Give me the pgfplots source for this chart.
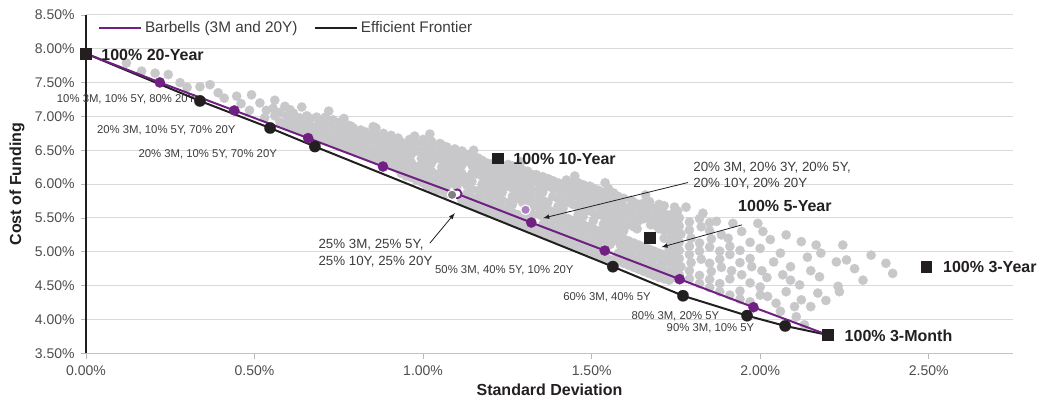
\documentclass[border=0pt]{standalone}
\usepackage{pgfplots}
\pgfplotsset{compat=1.18}
\usepackage{fontspec}
\setmainfont{Liberation Sans}
\definecolor{cpurple}{RGB}{112,32,130}
\definecolor{cblack}{RGB}{35,31,32}
\definecolor{cgray}{RGB}{200,200,202}
\definecolor{cdgray}{RGB}{128,128,130}
\definecolor{clpurple}{RGB}{170,128,190}
\definecolor{cgrid}{RGB}{217,217,217}
\definecolor{ctick}{RGB}{77,77,77}
\definecolor{ctext}{RGB}{60,60,60}
\begin{document}
\begin{tikzpicture}
\begin{axis}[
  name=ax,
  scale only axis, width=695.25pt, height=253.7pt,
  xmin=0, xmax=2.75, ymin=3.5, ymax=8.5,
  axis x line*=bottom, axis y line*=left,
  x axis line style={draw=cgrid!90!black, line width=0.75pt, -},
  y axis line style={draw=cblack, line width=0.8pt, -},
  xtick={0,0.5,1,1.5,2,2.5},
  xticklabels={0.00\%,0.50\%,1.00\%,1.50\%,2.00\%,2.50\%},
  ytick={3.5,4,4.5,5,5.5,6,6.5,7,7.5,8,8.5},
  yticklabels={3.50\%,4.00\%,4.50\%,5.00\%,5.50\%,6.00\%,6.50\%,7.00\%,7.50\%,8.00\%,8.50\%},
  tick align=outside, major tick length=4pt,
  tick style={draw=cgrid!85!black, line width=0.6pt},
  ymajorgrids, grid style={draw=cgrid, line width=0.75pt},
  ticklabel style={font=\fontsize{10.5}{12}\selectfont, text=ctick},
  xticklabel style={yshift=-2pt},
  yticklabel style={xshift=-1pt},
  xlabel={Standard Deviation}, ylabel={Cost of Funding},
  label style={font=\fontsize{12}{14}\selectfont\bfseries, text=cblack},
  xlabel style={at={(axis description cs:0.5,-0.109)}, anchor=center},
  ylabel style={at={(axis description cs:-0.0744,0.5)}, anchor=center},
  clip=false, clip marker paths=true,
  legend style={at={(rel axis cs:0.008,0.962)}, anchor=west, draw=none, fill=none,
    font=\fontsize{11.5}{13}\selectfont, text=ctext, legend columns=2,
    /tikz/every even column/.append style={column sep=10pt}},
  legend cell align=left,
  legend image code/.code={\draw[#1] (0pt,0pt) -- (32pt,0pt);},
]
\addlegendimage{color=cpurple, line width=1.5pt}
\addlegendentry{Barbells (3M and 20Y)}
\addlegendimage{color=cblack, line width=1.5pt}
\addlegendentry{Efficient Frontier}

% cloud of portfolios
\addplot[forget plot, only marks, mark=*, mark size=3.55pt, mark options={draw=cgray, fill=cgray, line width=0.1pt}] coordinates {
(0.12,7.79) (0.165,7.67) (0.205,7.64) (0.244,7.62) (0.279,7.50) (0.30,7.43) (0.338,7.44) (0.368,7.47) (0.392,7.35) (0.41,7.27) (0.447,7.30) (0.46,7.19) (0.491,7.32) (0.485,7.09) (0.516,7.20)
(0.53,6.98) (0.535,7.09) (0.555,7.12) (0.56,7.01)
(0.59,6.88) (0.59,7.15) (0.595,7.01)
(0.62,6.82) (0.615,7.05) (0.625,6.93)
(0.65,6.78) (0.645,6.89) (0.634,6.98) (0.655,7.01)
(0.68,6.70) (0.68,6.82) (0.684,6.99) (0.69,6.90)
(0.71,6.64) (0.71,6.76) (0.715,6.87) (0.71,6.99)
(0.74,6.60) (0.74,6.71) (0.745,6.83) (0.733,6.95)
(0.77,6.53) (0.77,6.65) (0.775,6.77) (0.773,6.88) (0.765,6.97)
(0.80,6.47) (0.80,6.59) (0.805,6.71) (0.793,6.83)
(0.83,6.42) (0.83,6.53) (0.835,6.65) (0.83,6.77) (0.852,6.85)
(0.86,6.36) (0.86,6.48) (0.865,6.60) (0.86,6.72)
(0.89,6.31) (0.89,6.42) (0.895,6.54) (0.89,6.66) (0.882,6.75)
(0.92,6.24) (0.92,6.36) (0.925,6.47) (0.92,6.59) (0.926,6.68)
(0.95,6.12) (0.95,6.21) (0.955,6.31) (0.95,6.43) (0.95,6.55) (0.96,6.66)
(0.98,6.06) (0.98,6.16) (0.985,6.26) (0.98,6.49) (0.975,6.61) (0.975,6.71)
(1.01,5.98) (1.01,6.09) (1.015,6.20) (1.01,6.32) (1.01,6.44) (1.005,6.56) (1.0,6.66)
(1.04,5.91) (1.04,6.03) (1.045,6.15) (1.04,6.38) (1.04,6.50) (1.05,6.60)
(1.07,5.86) (1.07,5.97) (1.075,6.09) (1.07,6.21) (1.07,6.33) (1.07,6.45) (1.07,6.55)
(1.10,5.96) (1.105,6.07) (1.10,6.18) (1.10,6.29) (1.10,6.40) (1.094,6.52)
(1.13,5.73) (1.13,5.86) (1.13,5.98) (1.135,6.10) (1.13,6.34) (1.129,6.44)
(1.16,5.67) (1.16,5.79) (1.165,5.91) (1.16,6.15) (1.16,6.27) (1.163,6.385)
(1.19,5.61) (1.19,5.73) (1.195,5.85) (1.19,5.97) (1.19,6.09) (1.19,6.21) (1.19,6.31)
(1.22,5.55) (1.22,5.67) (1.225,5.79) (1.22,5.91) (1.22,6.03) (1.22,6.15) (1.22,6.26)
(1.25,5.49) (1.25,5.61) (1.255,5.73) (1.25,5.97) (1.25,6.09) (1.25,6.20) (1.252,6.29)
(1.28,5.43) (1.28,5.55) (1.28,5.79) (1.28,5.91) (1.28,6.03) (1.28,6.15) (1.28,6.25)
(1.31,5.37) (1.31,5.49) (1.31,5.74) (1.31,5.85) (1.31,5.97) (1.31,6.09) (1.31,6.19)
(1.34,5.31) (1.345,5.55) (1.34,5.67) (1.34,5.79) (1.345,5.91) (1.34,6.03) (1.336,6.14)
(1.37,5.25) (1.37,5.37) (1.37,5.49) (1.375,5.61) (1.37,5.73) (1.37,5.97) (1.371,6.08)
(1.40,5.19) (1.40,5.31) (1.405,5.43) (1.40,5.55) (1.40,5.67) (1.40,5.79) (1.405,5.91) (1.40,6.02)
(1.43,5.13) (1.43,5.25) (1.435,5.37) (1.43,5.49) (1.43,5.73) (1.435,5.85) (1.43,5.97) (1.425,6.06)
(1.46,5.07) (1.46,5.19) (1.465,5.31) (1.46,5.43) (1.46,5.55) (1.46,5.67) (1.465,5.79) (1.46,5.91) (1.46,6.02)
(1.49,5.01) (1.49,5.13) (1.495,5.25) (1.49,5.37) (1.49,5.61) (1.495,5.73) (1.49,5.85) (1.494,5.97)
(1.52,4.95) (1.52,5.07) (1.525,5.19) (1.52,5.31) (1.52,5.55) (1.525,5.67) (1.52,5.79) (1.52,5.91)
(1.55,4.89) (1.555,5.11) (1.55,5.23) (1.55,5.35) (1.55,5.47) (1.555,5.59) (1.55,5.71) (1.55,5.83) (1.55,5.93)
(1.58,4.86) (1.58,4.98) (1.585,5.10) (1.58,5.22) (1.58,5.34) (1.58,5.46) (1.585,5.58) (1.58,5.70) (1.578,5.82)
(1.61,4.80) (1.61,4.92) (1.615,5.04) (1.61,5.16) (1.61,5.40) (1.615,5.52) (1.61,5.64) (1.618,5.76)
(1.64,4.74) (1.64,4.86) (1.645,4.98) (1.64,5.10) (1.635,5.34) (1.64,5.46) (1.645,5.58) (1.64,5.70)
(1.67,4.68) (1.67,4.80) (1.675,4.92) (1.67,5.04) (1.675,5.40) (1.67,5.52) (1.67,5.64) (1.672,5.74)
(1.70,4.62) (1.70,4.74) (1.705,4.86) (1.70,4.98) (1.70,5.34) (1.705,5.46) (1.70,5.58) (1.70,5.70)
(1.73,4.58) (1.73,4.70) (1.735,4.82) (1.73,4.94) (1.73,5.06) (1.73,5.18) (1.735,5.30) (1.73,5.42) (1.73,5.54) (1.746,5.66)
(1.76,4.66) (1.765,4.78) (1.76,4.90) (1.76,5.02) (1.76,5.14) (1.765,5.26) (1.76,5.38) (1.76,5.50) (1.755,5.60)
(1.79,4.60) (1.79,4.72) (1.795,4.84) (1.79,4.96) (1.79,5.08) (1.795,5.20) (1.79,5.32) (1.79,5.44)
(1.82,4.53) (1.82,4.65) (1.825,4.89) (1.82,5.01) (1.82,5.13) (1.825,5.37) (1.83,5.57) (1.82,5.49)
(1.85,4.47) (1.85,4.59) (1.855,4.71) (1.85,4.83) (1.85,5.07) (1.855,5.19) (1.85,5.31) (1.85,5.43)
(1.88,4.41) (1.88,4.53) (1.885,4.77) (1.88,4.89) (1.88,5.01) (1.885,5.25) (1.87,5.45)
(1.91,4.36) (1.91,4.60) (1.915,4.72) (1.91,4.96) (1.91,5.08) (1.905,5.20) (1.919,5.42)
(1.94,4.30) (1.94,4.42) (1.945,4.66) (1.94,4.84) (1.94,5.02) (1.945,5.30)
(1.97,4.26) (1.97,4.54) (1.975,4.78) (1.97,4.90) (1.97,5.14) (1.993,5.42)
(2.00,4.36) (2.00,4.48) (2.005,4.72) (2.00,5.05) (2.008,5.30)
(2.022,4.34) (2.047,4.24) (2.02,4.62) (2.04,4.85) (2.03,5.18) (2.067,4.66) (2.077,4.41) (2.077,5.25) (2.06,4.98) (2.09,4.78)
(2.102,4.19) (2.107,4.04) (2.117,4.51) (2.122,4.29) (2.122,5.15) (2.131,3.92) (2.14,4.92) (2.15,4.72) (2.166,5.10) (2.171,4.39)
(2.176,4.63) (2.18,4.98) (2.195,4.28) (2.226,4.85) (2.231,4.49) (2.235,4.41) (2.245,5.10) (2.256,4.88) (2.28,4.75) (2.305,4.58)
(2.329,4.95) (2.373,4.83) (2.393,4.68) (2.06,4.12) (2.09,4.58) (2.15,4.19)
(0.575,6.92) (0.575,7.06) (0.605,6.86) (0.605,6.98) (0.605,7.10) (0.635,6.80) (0.635,6.91)
(0.665,6.74) (0.665,6.86) (0.665,6.97) (0.695,6.68) (0.695,6.80) (0.695,6.94)
(0.725,6.62) (0.725,6.74) (0.725,6.86) (0.755,6.57) (0.755,6.69) (0.755,6.81) (0.755,6.92)
(0.785,6.51) (0.785,6.63) (0.785,6.75) (0.785,6.86) (0.815,6.45) (0.815,6.57) (0.815,6.69) (0.815,6.80)
(0.845,6.39) (0.845,6.51) (0.845,6.63) (0.845,6.75) (0.875,6.34) (0.875,6.46) (0.875,6.58) (0.875,6.70)
(0.905,6.28) (0.905,6.40) (0.905,6.52) (0.905,6.64) (0.905,6.72)
(0.935,6.16) (0.935,6.27) (0.935,6.39) (0.935,6.51) (0.935,6.62)
(0.965,6.10) (0.965,6.21) (0.965,6.32) (0.965,6.44) (0.965,6.56) (0.965,6.66)
(0.995,6.03) (0.995,6.14) (0.995,6.26) (0.995,6.38) (0.995,6.50) (0.995,6.61)
(1.025,5.95) (1.025,6.07) (1.025,6.19) (1.025,6.31) (1.025,6.43) (1.025,6.55) (1.025,6.63)
(1.055,5.90) (1.055,6.01) (1.055,6.13) (1.055,6.25) (1.055,6.37) (1.055,6.49) (1.055,6.58)
(1.085,6.02) (1.085,6.14) (1.085,6.26) (1.085,6.38) (1.085,6.48)
(1.115,5.76) (1.115,6.04) (1.115,6.16) (1.115,6.28) (1.115,6.40) (1.115,6.49)
(1.145,5.70) (1.145,5.80) (1.145,5.92) (1.145,6.04) (1.145,6.16) (1.145,6.28) (1.145,6.40)
(1.175,5.64) (1.175,5.76) (1.175,5.88) (1.175,6.00) (1.175,6.12) (1.175,6.24) (1.175,6.35)
(1.205,5.58) (1.205,5.70) (1.205,5.82) (1.205,5.94) (1.205,6.06) (1.205,6.18) (1.205,6.30)
(1.235,5.52) (1.235,5.64) (1.235,5.76) (1.235,5.88) (1.235,6.00) (1.235,6.12) (1.235,6.24)
(1.265,5.46) (1.265,5.58) (1.265,5.70) (1.265,5.82) (1.265,5.94) (1.265,6.06) (1.265,6.18) (1.265,6.27)
(1.295,5.40) (1.295,5.50) (1.295,5.73) (1.295,5.85) (1.295,5.97) (1.295,6.09) (1.295,6.21)
(1.325,5.34) (1.325,5.55) (1.325,5.67) (1.325,5.79) (1.325,5.91) (1.325,6.03) (1.325,6.14)
(1.355,5.28) (1.355,5.40) (1.355,5.52) (1.355,5.64) (1.355,5.76) (1.355,5.88) (1.355,6.00) (1.355,6.11)
(1.385,5.22) (1.385,5.34) (1.385,5.46) (1.385,5.58) (1.385,5.82) (1.385,5.94) (1.385,6.05)
(1.415,5.16) (1.415,5.28) (1.415,5.40) (1.415,5.52) (1.415,5.64) (1.415,5.76) (1.415,5.88) (1.415,6.00)
(1.445,5.10) (1.445,5.22) (1.445,5.34) (1.445,5.46) (1.445,5.70) (1.445,5.82) (1.445,5.94) (1.445,6.03)
(1.475,5.04) (1.475,5.16) (1.475,5.28) (1.475,5.40) (1.475,5.52) (1.475,5.64) (1.475,5.76) (1.475,5.88) (1.475,5.99)
(1.505,4.98) (1.505,5.10) (1.505,5.22) (1.505,5.34) (1.505,5.46) (1.505,5.58) (1.505,5.70) (1.505,5.82) (1.505,5.94)
(1.535,4.92) (1.535,5.17) (1.535,5.29) (1.535,5.41) (1.535,5.53) (1.535,5.65) (1.535,5.77) (1.535,5.88)
(1.565,4.88) (1.565,5.17) (1.565,5.29) (1.565,5.41) (1.565,5.53) (1.565,5.65) (1.565,5.77) (1.565,5.87)
(1.595,4.83) (1.595,4.95) (1.595,5.07) (1.595,5.19) (1.595,5.31) (1.595,5.43) (1.595,5.55) (1.595,5.67) (1.595,5.79)
(1.625,4.77) (1.625,4.89) (1.625,5.01) (1.625,5.13) (1.625,5.37) (1.625,5.49) (1.625,5.61) (1.625,5.73)
(1.655,4.71) (1.655,4.83) (1.655,4.95) (1.655,5.07) (1.655,5.49) (1.655,5.61) (1.655,5.72)
(1.685,4.65) (1.685,4.77) (1.685,4.89) (1.685,5.01) (1.685,5.40) (1.685,5.52) (1.685,5.64)
(1.715,4.60) (1.715,4.72) (1.715,4.84) (1.715,4.96) (1.715,5.20) (1.715,5.32) (1.715,5.44) (1.715,5.56) (1.715,5.68)
(1.745,4.62) (1.745,4.74) (1.745,4.86) (1.745,4.98) (1.745,5.10) (1.745,5.22) (1.745,5.34) (1.745,5.46) (1.745,5.58)
(0.56,7.24) (0.64,7.14) (0.72,7.08) (0.86,6.83) (1.02,6.74) (1.15,6.50) (1.29,6.33) (1.45,6.12) (1.54,6.02) (1.66,5.84) (1.78,5.66)
};

% annotations (behind the markers)
\begin{scope}[every node/.style={inner sep=0pt, anchor=west, text=ctext}]
\node[font=\fontsize{8.5}{10}\selectfont] at (axis cs:-0.087,7.247) {10\% 3M, 10\% 5Y, 80\% 20Y};
\node[font=\fontsize{8.5}{10}\selectfont] at (axis cs:0.032,6.803) {20\% 3M, 10\% 5Y, 70\% 20Y};
\node[font=\fontsize{8.5}{10}\selectfont] at (axis cs:0.155,6.448) {20\% 3M, 10\% 5Y, 70\% 20Y};
\node[font=\fontsize{10}{12.5}\selectfont, align=left] at (axis cs:0.689,4.979) {25\% 3M, 25\% 5Y,\\25\% 10Y, 25\% 20Y};
\node[font=\fontsize{8.5}{10}\selectfont] at (axis cs:1.035,4.722) {50\% 3M, 40\% 5Y, 10\% 20Y};
\node[font=\fontsize{8.5}{10}\selectfont] at (axis cs:1.415,4.328) {60\% 3M, 40\% 5Y};
\node[font=\fontsize{8.5}{10}\selectfont] at (axis cs:1.618,4.041) {80\% 3M, 20\% 5Y};
\node[font=\fontsize{8.5}{10}\selectfont] at (axis cs:1.722,3.870) {90\% 3M, 10\% 5Y};
\node[font=\fontsize{10}{12.5}\selectfont, align=left] at (axis cs:1.801,6.123) {20\% 3M, 20\% 3Y, 20\% 5Y,\\20\% 10Y, 20\% 20Y};
\end{scope}
\draw[-latex, cblack, line width=0.6pt] (axis cs:1.020,5.127) -- (axis cs:1.094,5.571);
\draw[-latex, cblack, line width=0.6pt] (axis cs:1.786,6.024) -- (axis cs:1.356,5.497);
\draw[-latex, cblack, line width=0.6pt] (axis cs:1.946,5.398) -- (axis cs:1.707,5.068);

% efficient frontier
\addplot[forget plot, color=cblack, line width=1.5pt] coordinates {
(0,7.93) (0.338,7.23) (0.546,6.83) (0.679,6.556) (1.563,4.78) (1.771,4.35) (1.961,4.056) (2.074,3.904) (2.201,3.77)
};
% barbells
\addplot[forget plot, color=cpurple, line width=1.5pt] coordinates {
(0,7.93) (0.219,7.503) (0.44,7.089) (0.659,6.68) (0.881,6.26) (1.101,5.857) (1.321,5.432) (1.539,5.018) (1.761,4.595) (1.98,4.18) (2.201,3.77)
};
\addplot[forget plot, only marks, mark=*, mark size=3.9pt, mark options={draw=cpurple, fill=cpurple, line width=0.1pt}] coordinates {
(0.219,7.503) (0.44,7.089) (0.659,6.68) (0.881,6.26) (1.321,5.432) (1.539,5.018) (1.761,4.595) (1.98,4.18)
};
\addplot[forget plot, only marks, mark=*, mark size=3.3pt, mark options={draw=cpurple, fill=white, line width=1.4pt}] coordinates {
(1.101,5.857)
};
\addplot[forget plot, only marks, mark=*, mark size=3.6pt, mark options={draw=white, fill=cdgray, line width=0.8pt}] coordinates {
(1.086,5.842)
};
\addplot[forget plot, only marks, mark=*, mark size=3.6pt, mark options={draw=white, fill=clpurple, line width=0.8pt}] coordinates {
(1.304,5.62)
};
\addplot[forget plot, only marks, mark=*, mark size=4.3pt, mark options={draw=cblack, fill=cblack, line width=0.1pt}] coordinates {
(0.338,7.23) (0.546,6.83) (0.679,6.556) (1.563,4.78) (1.771,4.35) (1.961,4.056) (2.074,3.904)
};
% pure portfolios
\addplot[forget plot, only marks, mark=square*, mark size=4.1pt, mark options={draw=cblack, fill=cblack, line width=0.1pt}] coordinates {
(0,7.93) (1.222,6.385) (1.672,5.216) (2.492,4.78) (2.201,3.77)
};
\begin{scope}[every node/.style={inner sep=0pt, anchor=west, text=cblack, font=\fontsize{12}{14}\selectfont\bfseries}]
\node at (axis cs:0.045,7.915) {100\% 20-Year};
\node at (axis cs:1.267,6.370) {100\% 10-Year};
\node at (axis cs:1.934,5.679) {100\% 5-Year};
\node at (axis cs:2.542,4.781) {100\% 3-Year};
\node at (axis cs:2.250,3.756) {100\% 3-Month};
\end{scope}
\end{axis}
\pgfresetboundingbox
\path ([shift={(-64.5pt,-38pt)}]ax.south west) rectangle ([shift={(18.75pt,11.25pt)}]ax.north east);
\end{tikzpicture}
\end{document}
